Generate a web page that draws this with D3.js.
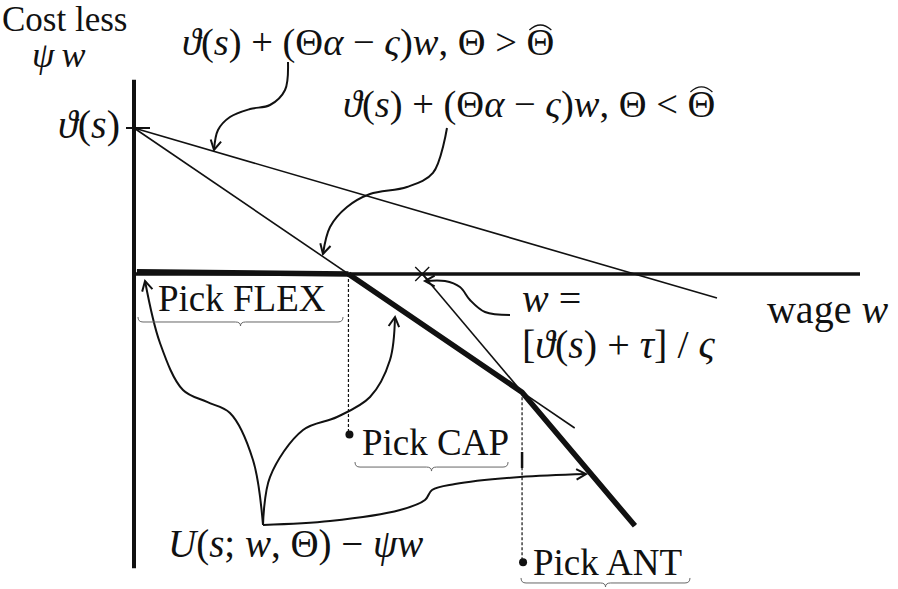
<html>
<script src='https://d3js.org/d3.v7.min.js'></script>
<style>
  body { margin: 0; background: #fff; }
</style>
<body onload='init()'>
<svg width=898 height=589></svg>
<script>
// wage / value units: origin at the corner of the axes, intercept = 2
var axisEnds = {wage: 10, top: 2.66, bottom: -4.03};
var intercept = 2;                                  // ϑ(s)
var lineHigh = [[0, 2], [8.03, -0.33]];             // Θ > Θ^
var lineLow = [[0, 2], [6.07, -2.11]];              // Θ < Θ^
var lineTax = [[3.97, 0], [6.90, -3.45]];           // through w = [ϑ(s)+τ]/ς
var flexStart = 0.04;
var dotCap = -2.2, dotAnt = -3.95;

// annotation arrows (wage, value)
var arrowHigh = [[2.121, 2.904], [2.080, 2.521], [1.873, 2.315], [1.598, 2.260], [1.322, 2.151], [1.157, 1.973], [1.102, 1.699]];
var arrowLow = [[4.311, 2.0], [4.118, 1.384], [3.760, 1.192], [3.251, 1.096], [2.934, 0.918], [2.700, 0.644], [2.603, 0.274]];
var arrowCross = [[5.179, -0.562], [4.835, -0.521], [4.628, -0.356], [4.490, -0.178], [4.284, -0.096], [4.008, -0.096]];
var arrowFlex = [[1.777, -3.438], [1.639, -2.548], [1.322, -1.904], [1.006, -1.753], [0.675, -1.589], [0.358, -0.945], [0.152, -0.096]];
var arrowCap = [[1.777, -3.438], [1.873, -2.781], [2.328, -2.137], [2.796, -1.959], [3.251, -1.685], [3.526, -1.178], [3.595, -0.589]];
var arrowAnt = [[1.777, -3.438], [2.700, -3.384], [3.664, -3.233], [4.008, -3.096], [4.105, -2.959], [4.421, -2.877], [5.317, -2.781], [6.226, -2.740]];

// braces: [from, to, value]
var braces = [[0.055, 2.879, -0.589], [3.044, 5.152, -2.576], [5.331, 7.658, -4.164]];

// labels: [wage, value, anchor, size, parts, hat]
var labels = [
  [-1.818, 3.329, 'start', 35, [['Cost less', 0]]],
  [-1.405, 2.836, 'start', 36, [['ψ\u2009w', 1]]],
  [-0.193, 1.863, 'end', 40, [['ϑ', 1], ['(', 0], ['s', 1], [')', 0]]],
  [0.661, 3.0, 'start', 38.5, [['ϑ', 1], ['(', 0], ['s', 1], [') + (Θ', 0], ['α', 1], [' − ', 0], ['ς', 1], [')', 0], ['w', 1], [', Θ > Θ', 0]], true],
  [2.879, 2.151, 'start', 38.5, [['ϑ', 1], ['(', 0], ['s', 1], [') + (Θ', 0], ['α', 1], [' − ', 0], ['ς', 1], [')', 0], ['w', 1], [', Θ < Θ', 0]], true],
  [8.719, -0.671, 'start', 40, [['wage ', 0], ['w', 1]]],
  [5.344, -0.521, 'start', 40, [['w', 1], [' =', 0]]],
  [5.344, -1.151, 'start', 40, [['[', 0], ['ϑ', 1], ['(', 0], ['s', 1], [') + ', 0], ['τ', 1], ['] / ', 0], ['ς', 1]]],
  [0.331, -0.507, 'start', 37, [['Pick FLEX', 0]]],
  [3.140, -2.479, 'start', 37, [['Pick CAP', 0]]],
  [5.496, -4.123, 'start', 37, [['Pick ANT', 0]]],
  [0.468, -3.877, 'start', 39, [['U', 1], ['(', 0], ['s', 1], ['; ', 0], ['w', 1], [', Θ) − ', 0], ['ψw', 1]]]
];

function init() {
  var svg = d3.select('svg');
  var x = d3.scaleLinear().domain([0, 10]).range([134, 860]);
  var y = d3.scaleLinear().domain([0, 2]).range([274, 128]);
  var line = d3.line().x(function(d) { return x(d[0]); }).y(function(d) { return y(d[1]); });
  var curve = d3.line().curve(d3.curveCatmullRom.alpha(0.5))
    .x(function(d) { return x(d[0]); }).y(function(d) { return y(d[1]); });

  function seg(pts, w, dash) {
    return svg.append('path').attr('d', line(pts)).attr('fill', 'none')
      .attr('stroke', '#111').attr('stroke-width', w).attr('stroke-dasharray', dash || null);
  }
  function meet(a, b) {
    var ma = (a[1][1] - a[0][1]) / (a[1][0] - a[0][0]);
    var mb = (b[1][1] - b[0][1]) / (b[1][0] - b[0][0]);
    var u = (b[0][1] - a[0][1] + ma * a[0][0] - mb * b[0][0]) / (ma - mb);
    return [u, a[0][1] + ma * (u - a[0][0])];
  }

  // axes
  seg([[0, axisEnds.top], [0, axisEnds.bottom]], 4);
  seg([[0, 0], [axisEnds.wage, 0]], 3.5);
  svg.append('line').attr('x1', x(0) - 8).attr('x2', x(0) + 16)
    .attr('y1', y(intercept)).attr('y2', y(intercept)).attr('stroke', '#111').attr('stroke-width', 2);

  // cost lines
  seg(lineHigh, 1.6);
  seg(lineLow, 1.6);
  seg(lineTax, 1.6);

  var flexEnd = [lineLow[0][0] - lineLow[0][1] / ((lineLow[1][1] - lineLow[0][1]) / (lineLow[1][0] - lineLow[0][0])), 0];
  var kink = meet(lineLow, lineTax);
  seg([[flexStart, 0.03], flexEnd], 5.5);
  seg([flexEnd, kink, lineTax[1]], 5.5).attr('stroke-linejoin', 'round');

  // cross mark
  var cx = x(lineTax[0][0]), cy = y(0);
  svg.append('path').attr('d', 'M' + (cx - 7) + ',' + (cy - 7) + 'L' + (cx + 7) + ',' + (cy + 7) +
    'M' + (cx - 7) + ',' + (cy + 7) + 'L' + (cx + 7) + ',' + (cy - 7))
    .attr('stroke', '#111').attr('stroke-width', 1.4);

  // dashed drops and dots
  seg([flexEnd, [flexEnd[0], dotCap]], 1.2, '3,2');
  seg([kink, [kink[0], dotAnt]], 1.2, '3,2');
  seg([[kink[0], -2.438], [kink[0], -2.658]], 2.5);
  [[flexEnd[0], dotCap], [kink[0], dotAnt]].forEach(function(p) {
    svg.append('circle').attr('cx', x(p[0]) + 1).attr('cy', y(p[1])).attr('r', 4).attr('fill', '#111');
  });

  // arrows
  [arrowHigh, arrowLow, arrowCross, arrowFlex, arrowCap, arrowAnt].forEach(function(pts) {
    svg.append('path').attr('d', curve(pts)).attr('fill', 'none')
      .attr('stroke', '#111').attr('stroke-width', 2);
    var a = pts[pts.length - 2], b = pts[pts.length - 1];
    var tx = x(b[0]), ty = y(b[1]);
    var ang = Math.atan2(ty - y(a[1]), tx - x(a[0]));
    var len = 11, spread = 0.5;
    var p1 = [tx - len * Math.cos(ang - spread), ty - len * Math.sin(ang - spread)];
    var p2 = [tx - len * Math.cos(ang + spread), ty - len * Math.sin(ang + spread)];
    svg.append('path').attr('d', 'M' + p1 + 'L' + tx + ',' + ty + 'L' + p2)
      .attr('fill', 'none').attr('stroke', '#111').attr('stroke-width', 2);
  });

  // braces
  braces.forEach(function(b) {
    var x0 = x(b[0]), x1 = x(b[1]), y0 = y(b[2]), m = (x0 + x1) / 2, h = 5, r = 5;
    var d = 'M' + x0 + ',' + y0 + 'Q' + x0 + ',' + (y0 + h) + ' ' + (x0 + r) + ',' + (y0 + h) +
      'L' + (m - r) + ',' + (y0 + h) + 'Q' + m + ',' + (y0 + h) + ' ' + m + ',' + (y0 + h + 4) +
      'Q' + m + ',' + (y0 + h) + ' ' + (m + r) + ',' + (y0 + h) +
      'L' + (x1 - r) + ',' + (y0 + h) + 'Q' + x1 + ',' + (y0 + h) + ' ' + x1 + ',' + y0;
    svg.append('path').attr('d', d).attr('fill', 'none').attr('stroke', '#666').attr('stroke-width', 1);
  });

  // labels
  labels.forEach(function(l) {
    var t = svg.append('text').attr('x', x(l[0])).attr('y', y(l[1]))
      .attr('text-anchor', l[2]).attr('font-size', l[3]).attr('fill', '#111')
      .attr('font-family', "'Liberation Serif', 'DejaVu Serif', serif")
      .attr('xml:space', 'preserve');
    l[4].forEach(function(p) {
      t.append('tspan').text(p[0]).attr('font-style', p[1] ? 'italic' : 'normal');
    });
    if (l[5]) {
      var node = t.node(), n = node.getNumberOfChars();
      var box = node.getExtentOfChar(n - 1);
      var mx = box.x + box.width / 2, top = box.y + 6;
      svg.append('path')
        .attr('d', 'M' + (mx - 11) + ',' + (top + 3) + 'Q' + mx + ',' + (top - 7) + ' ' + (mx + 11) + ',' + (top + 3))
        .attr('fill', 'none').attr('stroke', '#111').attr('stroke-width', 1.2);
    }
  });
}
</script>
</body>
</html>
